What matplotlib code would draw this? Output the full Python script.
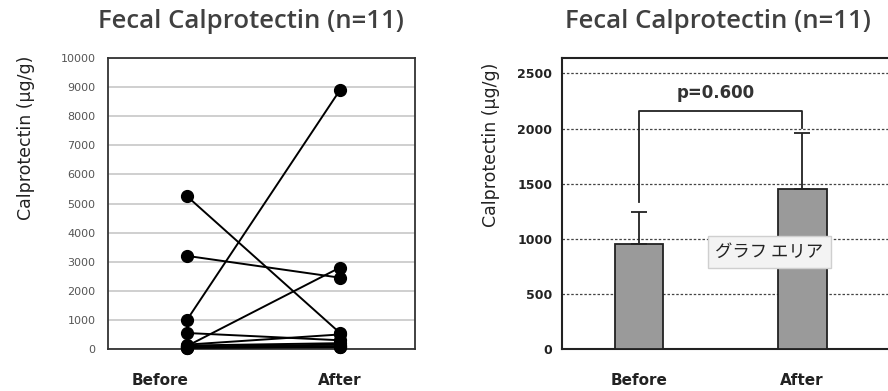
import matplotlib
matplotlib.use('Agg')
import matplotlib.pyplot as plt
import matplotlib.transforms as mtransforms
import numpy as np

# Paired values for each patient (ug/g)
groups = ['Before', 'After']
before = [5250, 3200, 1000, 100, 550, 150, 120, 80, 60, 50, 40]
after = [550, 2450, 8900, 2800, 300, 500, 200, 150, 100, 80, 60]

# Bar chart summary
bar_means = [950, 1450]
bar_err = [290, 510]
p_text = 'p=0.600'
title = 'Fecal Calprotectin (n=11)'
ylab = 'Calprotectin (\u03bcg/g)'
left_ticks = list(range(0, 10001, 1000))
right_ticks = list(range(0, 2501, 500))

W, H = 888, 391
fig = plt.figure(figsize=(W / 100, H / 100), dpi=100)
plt.rcParams['font.family'] = ['DejaVu Sans']
title_font = ['Open Sans', 'DejaVu Sans']

# Left: paired dot plot
ax1 = fig.add_axes([108 / W, (H - 349) / H, (415 - 108) / W, (349 - 58) / H])
for b, a in zip(before, after):
    ax1.plot([0, 1], [b, a], color='black', lw=1.4, marker='o', ms=8.5,
             mfc='black', mec='black', zorder=3, clip_on=False)
ax1.set_xlim(-0.516, 1.49)
ax1.set_ylim(0, 10000)
ax1.set_yticks(left_ticks)
ax1.set_yticklabels([str(t) for t in left_ticks], fontsize=8, color='#555555')
ax1.yaxis.grid(True, color='#cccccc', lw=1.3)
ax1.set_axisbelow(True)
ax1.tick_params(axis='y', length=0, pad=9)
ax1.set_xticks([0, 1])
ax1.set_xticklabels(groups, fontsize=11, fontweight='bold', color='#222222')
ax1.tick_params(axis='x', length=0, pad=17)
shift = mtransforms.ScaledTranslation(-0.27, 0, fig.dpi_scale_trans)
lbl = ax1.get_xticklabels()[0]
lbl.set_transform(lbl.get_transform() + shift)
for s in ax1.spines.values():
    s.set_color('#333333')
    s.set_linewidth(1.3)

fig.text(251 / W, 1 - 22 / H, title, ha='center', va='center',
         fontsize=18.5, color='#404040', family=title_font, fontweight='semibold')
fig.text(26 / W, 1 - 138 / H, ylab, ha='center', va='center', rotation=90,
         fontsize=12.5, color='#222222')

# Right: bar chart with SEM
ax2 = fig.add_axes([562 / W, (H - 349) / H, (900 - 562) / W, (349 - 58) / H])
x = np.arange(len(groups))
ax2.bar(x, bar_means, width=0.3, color='#9a9a9a', edgecolor='#222222',
        lw=1.3, zorder=3)
ax2.errorbar(x, bar_means, yerr=[[0, 0], bar_err], fmt='none',
             ecolor='#222222', elinewidth=1.3, capsize=6, capthick=1.3, zorder=4)
ax2.set_xlim(-0.472, 1.6)
ax2.set_ylim(0, 2640)
ax2.set_yticks(right_ticks)
ax2.set_yticklabels([str(t) for t in right_ticks], fontsize=9,
                    fontweight='bold', color='#222222')
ax2.tick_params(axis='y', length=0, pad=7)
ax2.yaxis.grid(True, color='#444444', lw=0.9, ls=(0, (2, 1.5)))
ax2.set_axisbelow(True)
ax2.set_xticks(x)
ax2.set_xticklabels(groups, fontsize=11, fontweight='bold', color='#222222')
ax2.tick_params(axis='x', length=0, pad=17)
for s in ax2.spines.values():
    s.set_color('#222222')
    s.set_linewidth(1.5)

# significance bracket
b_left = bar_means[0] + bar_err[0] + 90
b_right = bar_means[1] + bar_err[1] + 45
b_top = 2160
ax2.plot([0, 0, 1, 1], [b_left, b_top, b_top, b_right], color='#222222',
         lw=1.3, zorder=5)
ax2.text(0.47, 2320, p_text, ha='center', va='center', fontsize=12,
         fontweight='bold', color='#333333', zorder=5)

# tooltip overlay
ax2.text(0.8, 880, 'グラフ エリア', ha='center', va='center', fontsize=12.5,
         family=['Noto Sans CJK JP', 'DejaVu Sans'], color='#222222', zorder=6,
         bbox=dict(boxstyle='square,pad=0.4', fc='#f3f3f3', ec='#cfcfcf', lw=1.0))

fig.text(718 / W, 1 - 22 / H, title, ha='center', va='center',
         fontsize=18.5, color='#404040', family=title_font, fontweight='semibold')
fig.text(491 / W, 1 - 145 / H, ylab, ha='center', va='center', rotation=90,
         fontsize=12.5, color='#222222')

fig.savefig('out.png', dpi=100)
